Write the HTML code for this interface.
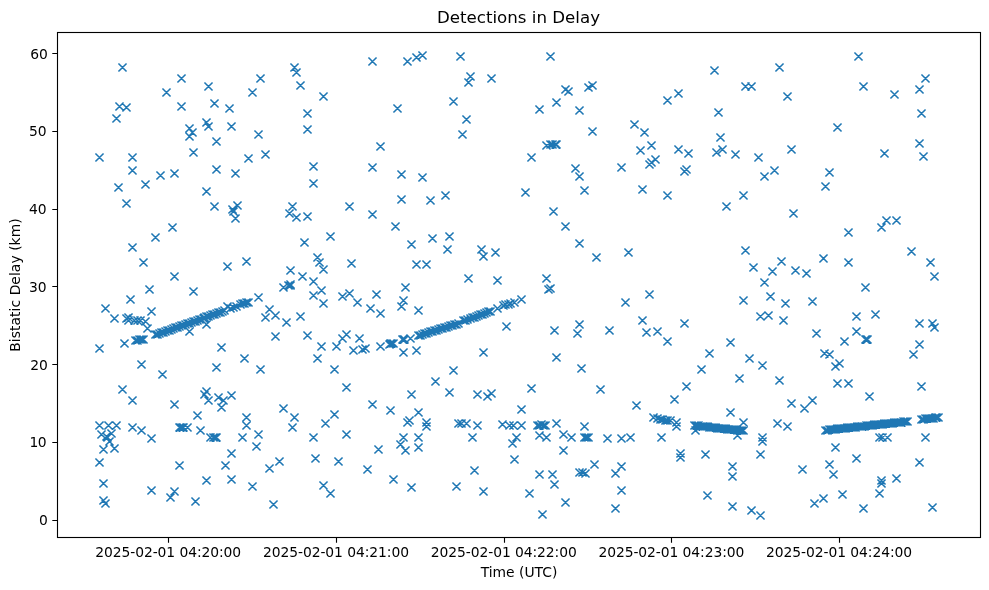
<!DOCTYPE html>
<html><head><meta charset="utf-8"><title>Detections in Delay</title>
<style>html,body{margin:0;padding:0;background:#fff}body{width:989px;height:590px;overflow:hidden}</style></head>
<body>
<svg width="989" height="590" viewBox="0 0 989 590" style="display:block">
<rect width="989" height="590" fill="#fff"/>
<path d="M185.45 124.45l8.10 8.10m-8.10 0l8.10 -8.10M188.45 128.45l8.10 8.10m-8.10 0l8.10 -8.10M185.45 132.45l8.10 8.10m-8.10 0l8.10 -8.10M202.45 118.45l8.10 8.10m-8.10 0l8.10 -8.10M542.45 141.45l8.10 8.10m-8.10 0l8.10 -8.10M546.45 140.45l8.10 8.10m-8.10 0l8.10 -8.10M548.45 140.45l8.10 8.10m-8.10 0l8.10 -8.10M551.45 140.45l8.10 8.10m-8.10 0l8.10 -8.10M552.45 140.45l8.10 8.10m-8.10 0l8.10 -8.10M651.45 155.45l8.10 8.10m-8.10 0l8.10 -8.10M647.45 158.45l8.10 8.10m-8.10 0l8.10 -8.10M645.45 160.45l8.10 8.10m-8.10 0l8.10 -8.10M682.45 165.45l8.10 8.10m-8.10 0l8.10 -8.10M680.45 167.45l8.10 8.10m-8.10 0l8.10 -8.10M233.45 201.45l8.10 8.10m-8.10 0l8.10 -8.10M228.45 205.45l8.10 8.10m-8.10 0l8.10 -8.10M229.45 207.45l8.10 8.10m-8.10 0l8.10 -8.10M231.45 214.45l8.10 8.10m-8.10 0l8.10 -8.10M288.45 202.45l8.10 8.10m-8.10 0l8.10 -8.10M285.45 209.45l8.10 8.10m-8.10 0l8.10 -8.10M292.45 213.45l8.10 8.10m-8.10 0l8.10 -8.10M300.45 238.45l8.10 8.10m-8.10 0l8.10 -8.10M279.45 283.45l8.10 8.10m-8.10 0l8.10 -8.10M284.45 281.45l8.10 8.10m-8.10 0l8.10 -8.10M286.45 280.45l8.10 8.10m-8.10 0l8.10 -8.10M286.45 281.45l8.10 8.10m-8.10 0l8.10 -8.10M122.45 314.45l8.10 8.10m-8.10 0l8.10 -8.10M124.45 313.45l8.10 8.10m-8.10 0l8.10 -8.10M124.45 316.45l8.10 8.10m-8.10 0l8.10 -8.10M130.45 316.45l8.10 8.10m-8.10 0l8.10 -8.10M133.45 316.45l8.10 8.10m-8.10 0l8.10 -8.10M136.45 316.45l8.10 8.10m-8.10 0l8.10 -8.10M141.45 317.45l8.10 8.10m-8.10 0l8.10 -8.10M143.45 324.45l8.10 8.10m-8.10 0l8.10 -8.10M544.45 285.45l8.10 8.10m-8.10 0l8.10 -8.10M546.45 284.45l8.10 8.10m-8.10 0l8.10 -8.10M928.45 319.45l8.10 8.10m-8.10 0l8.10 -8.10M930.45 323.45l8.10 8.10m-8.10 0l8.10 -8.10M95.45 421.45l8.10 8.10m-8.10 0l8.10 -8.10M104.45 421.45l8.10 8.10m-8.10 0l8.10 -8.10M112.45 421.45l8.10 8.10m-8.10 0l8.10 -8.10M97.45 430.45l8.10 8.10m-8.10 0l8.10 -8.10M107.45 429.45l8.10 8.10m-8.10 0l8.10 -8.10M102.45 432.45l8.10 8.10m-8.10 0l8.10 -8.10M103.45 433.45l8.10 8.10m-8.10 0l8.10 -8.10M105.45 437.45l8.10 8.10m-8.10 0l8.10 -8.10M99.45 445.45l8.10 8.10m-8.10 0l8.10 -8.10M110.45 444.45l8.10 8.10m-8.10 0l8.10 -8.10M95.45 458.45l8.10 8.10m-8.10 0l8.10 -8.10M128.45 396.45l8.10 8.10m-8.10 0l8.10 -8.10M128.45 423.45l8.10 8.10m-8.10 0l8.10 -8.10M137.45 426.45l8.10 8.10m-8.10 0l8.10 -8.10M147.45 434.45l8.10 8.10m-8.10 0l8.10 -8.10M170.45 400.45l8.10 8.10m-8.10 0l8.10 -8.10M193.45 411.45l8.10 8.10m-8.10 0l8.10 -8.10M175.45 423.45l8.10 8.10m-8.10 0l8.10 -8.10M176.45 423.45l8.10 8.10m-8.10 0l8.10 -8.10M178.45 423.45l8.10 8.10m-8.10 0l8.10 -8.10M179.45 423.45l8.10 8.10m-8.10 0l8.10 -8.10M183.45 423.45l8.10 8.10m-8.10 0l8.10 -8.10M196.45 426.45l8.10 8.10m-8.10 0l8.10 -8.10M175.45 461.45l8.10 8.10m-8.10 0l8.10 -8.10M202.45 387.45l8.10 8.10m-8.10 0l8.10 -8.10M200.45 390.45l8.10 8.10m-8.10 0l8.10 -8.10M204.45 396.45l8.10 8.10m-8.10 0l8.10 -8.10M214.45 393.45l8.10 8.10m-8.10 0l8.10 -8.10M219.45 396.45l8.10 8.10m-8.10 0l8.10 -8.10M227.45 391.45l8.10 8.10m-8.10 0l8.10 -8.10M217.45 403.45l8.10 8.10m-8.10 0l8.10 -8.10M206.45 433.45l8.10 8.10m-8.10 0l8.10 -8.10M209.45 433.45l8.10 8.10m-8.10 0l8.10 -8.10M211.45 433.45l8.10 8.10m-8.10 0l8.10 -8.10M212.45 433.45l8.10 8.10m-8.10 0l8.10 -8.10M242.45 413.45l8.10 8.10m-8.10 0l8.10 -8.10M242.45 421.45l8.10 8.10m-8.10 0l8.10 -8.10M238.45 433.45l8.10 8.10m-8.10 0l8.10 -8.10M254.45 430.45l8.10 8.10m-8.10 0l8.10 -8.10M252.45 442.45l8.10 8.10m-8.10 0l8.10 -8.10M279.45 404.45l8.10 8.10m-8.10 0l8.10 -8.10M290.45 413.45l8.10 8.10m-8.10 0l8.10 -8.10M288.45 423.45l8.10 8.10m-8.10 0l8.10 -8.10M227.45 449.45l8.10 8.10m-8.10 0l8.10 -8.10M414.45 408.45l8.10 8.10m-8.10 0l8.10 -8.10M403.45 418.45l8.10 8.10m-8.10 0l8.10 -8.10M405.45 416.45l8.10 8.10m-8.10 0l8.10 -8.10M422.45 418.45l8.10 8.10m-8.10 0l8.10 -8.10M422.45 422.45l8.10 8.10m-8.10 0l8.10 -8.10M399.45 433.45l8.10 8.10m-8.10 0l8.10 -8.10M414.45 433.45l8.10 8.10m-8.10 0l8.10 -8.10M396.45 440.45l8.10 8.10m-8.10 0l8.10 -8.10M401.45 446.45l8.10 8.10m-8.10 0l8.10 -8.10M414.45 443.45l8.10 8.10m-8.10 0l8.10 -8.10M454.45 419.45l8.10 8.10m-8.10 0l8.10 -8.10M457.45 419.45l8.10 8.10m-8.10 0l8.10 -8.10M462.45 419.45l8.10 8.10m-8.10 0l8.10 -8.10M473.45 421.45l8.10 8.10m-8.10 0l8.10 -8.10M468.45 433.45l8.10 8.10m-8.10 0l8.10 -8.10M470.45 466.45l8.10 8.10m-8.10 0l8.10 -8.10M498.45 420.45l8.10 8.10m-8.10 0l8.10 -8.10M505.45 421.45l8.10 8.10m-8.10 0l8.10 -8.10M509.45 421.45l8.10 8.10m-8.10 0l8.10 -8.10M517.45 421.45l8.10 8.10m-8.10 0l8.10 -8.10M517.45 405.45l8.10 8.10m-8.10 0l8.10 -8.10M533.45 421.45l8.10 8.10m-8.10 0l8.10 -8.10M535.45 421.45l8.10 8.10m-8.10 0l8.10 -8.10M537.45 420.45l8.10 8.10m-8.10 0l8.10 -8.10M539.45 421.45l8.10 8.10m-8.10 0l8.10 -8.10M541.45 421.45l8.10 8.10m-8.10 0l8.10 -8.10M512.45 433.45l8.10 8.10m-8.10 0l8.10 -8.10M508.45 439.45l8.10 8.10m-8.10 0l8.10 -8.10M510.45 455.45l8.10 8.10m-8.10 0l8.10 -8.10M535.45 431.45l8.10 8.10m-8.10 0l8.10 -8.10M542.45 433.45l8.10 8.10m-8.10 0l8.10 -8.10M535.45 470.45l8.10 8.10m-8.10 0l8.10 -8.10M548.45 470.45l8.10 8.10m-8.10 0l8.10 -8.10M552.45 419.45l8.10 8.10m-8.10 0l8.10 -8.10M580.45 422.45l8.10 8.10m-8.10 0l8.10 -8.10M559.45 430.45l8.10 8.10m-8.10 0l8.10 -8.10M567.45 433.45l8.10 8.10m-8.10 0l8.10 -8.10M580.45 433.45l8.10 8.10m-8.10 0l8.10 -8.10M582.45 433.45l8.10 8.10m-8.10 0l8.10 -8.10M584.45 433.45l8.10 8.10m-8.10 0l8.10 -8.10M603.45 434.45l8.10 8.10m-8.10 0l8.10 -8.10M617.45 434.45l8.10 8.10m-8.10 0l8.10 -8.10M626.45 433.45l8.10 8.10m-8.10 0l8.10 -8.10M559.45 446.45l8.10 8.10m-8.10 0l8.10 -8.10M590.45 460.45l8.10 8.10m-8.10 0l8.10 -8.10M575.45 468.45l8.10 8.10m-8.10 0l8.10 -8.10M578.45 468.45l8.10 8.10m-8.10 0l8.10 -8.10M581.45 469.45l8.10 8.10m-8.10 0l8.10 -8.10M649.45 413.45l8.10 8.10m-8.10 0l8.10 -8.10M653.45 414.45l8.10 8.10m-8.10 0l8.10 -8.10M656.45 415.45l8.10 8.10m-8.10 0l8.10 -8.10M658.45 415.45l8.10 8.10m-8.10 0l8.10 -8.10M661.45 416.45l8.10 8.10m-8.10 0l8.10 -8.10M663.45 416.45l8.10 8.10m-8.10 0l8.10 -8.10M666.45 416.45l8.10 8.10m-8.10 0l8.10 -8.10M672.45 418.45l8.10 8.10m-8.10 0l8.10 -8.10M672.45 422.45l8.10 8.10m-8.10 0l8.10 -8.10M670.45 395.45l8.10 8.10m-8.10 0l8.10 -8.10M726.45 408.45l8.10 8.10m-8.10 0l8.10 -8.10M739.45 418.45l8.10 8.10m-8.10 0l8.10 -8.10M691.45 426.45l8.10 8.10m-8.10 0l8.10 -8.10M733.45 431.45l8.10 8.10m-8.10 0l8.10 -8.10M657.45 433.45l8.10 8.10m-8.10 0l8.10 -8.10M676.45 449.45l8.10 8.10m-8.10 0l8.10 -8.10M676.45 453.45l8.10 8.10m-8.10 0l8.10 -8.10M701.45 450.45l8.10 8.10m-8.10 0l8.10 -8.10M728.45 462.45l8.10 8.10m-8.10 0l8.10 -8.10M758.45 433.45l8.10 8.10m-8.10 0l8.10 -8.10M758.45 437.45l8.10 8.10m-8.10 0l8.10 -8.10M756.45 450.45l8.10 8.10m-8.10 0l8.10 -8.10M875.45 433.45l8.10 8.10m-8.10 0l8.10 -8.10M878.45 433.45l8.10 8.10m-8.10 0l8.10 -8.10M883.45 433.45l8.10 8.10m-8.10 0l8.10 -8.10M820.45 349.45l8.10 8.10m-8.10 0l8.10 -8.10M825.45 350.45l8.10 8.10m-8.10 0l8.10 -8.10M861.45 335.45l8.10 8.10m-8.10 0l8.10 -8.10M862.45 335.45l8.10 8.10m-8.10 0l8.10 -8.10M863.45 335.45l8.10 8.10m-8.10 0l8.10 -8.10M877.45 476.45l8.10 8.10m-8.10 0l8.10 -8.10M877.45 479.45l8.10 8.10m-8.10 0l8.10 -8.10M223.45 302.45l8.10 8.10m-8.10 0l8.10 -8.10M226.45 304.45l8.10 8.10m-8.10 0l8.10 -8.10M229.45 303.45l8.10 8.10m-8.10 0l8.10 -8.10M232.45 302.45l8.10 8.10m-8.10 0l8.10 -8.10M406.45 334.45l8.10 8.10m-8.10 0l8.10 -8.10M493.45 304.45l8.10 8.10m-8.10 0l8.10 -8.10M499.45 301.45l8.10 8.10m-8.10 0l8.10 -8.10M501.45 300.45l8.10 8.10m-8.10 0l8.10 -8.10M504.45 300.45l8.10 8.10m-8.10 0l8.10 -8.10M506.45 299.45l8.10 8.10m-8.10 0l8.10 -8.10M510.45 298.45l8.10 8.10m-8.10 0l8.10 -8.10M517.45 295.45l8.10 8.10m-8.10 0l8.10 -8.10M385.45 340.45l8.10 8.10m-8.10 0l8.10 -8.10M386.45 339.45l8.10 8.10m-8.10 0l8.10 -8.10M387.45 339.45l8.10 8.10m-8.10 0l8.10 -8.10M389.45 339.45l8.10 8.10m-8.10 0l8.10 -8.10M398.45 335.45l8.10 8.10m-8.10 0l8.10 -8.10M399.45 335.45l8.10 8.10m-8.10 0l8.10 -8.10M400.45 335.45l8.10 8.10m-8.10 0l8.10 -8.10M358.45 345.45l8.10 8.10m-8.10 0l8.10 -8.10M546.45 52.45l8.10 8.10m-8.10 0l8.10 -8.10M549.45 207.45l8.10 8.10m-8.10 0l8.10 -8.10M202.45 320.45l8.10 8.10m-8.10 0l8.10 -8.10M118.45 63.45l8.10 8.10m-8.10 0l8.10 -8.10M177.45 74.45l8.10 8.10m-8.10 0l8.10 -8.10M162.45 88.45l8.10 8.10m-8.10 0l8.10 -8.10M204.45 82.45l8.10 8.10m-8.10 0l8.10 -8.10M256.45 74.45l8.10 8.10m-8.10 0l8.10 -8.10M248.45 88.45l8.10 8.10m-8.10 0l8.10 -8.10M290.45 63.45l8.10 8.10m-8.10 0l8.10 -8.10M292.45 68.45l8.10 8.10m-8.10 0l8.10 -8.10M296.45 81.45l8.10 8.10m-8.10 0l8.10 -8.10M115.45 102.45l8.10 8.10m-8.10 0l8.10 -8.10M122.45 103.45l8.10 8.10m-8.10 0l8.10 -8.10M112.45 114.45l8.10 8.10m-8.10 0l8.10 -8.10M177.45 102.45l8.10 8.10m-8.10 0l8.10 -8.10M210.45 99.45l8.10 8.10m-8.10 0l8.10 -8.10M225.45 104.45l8.10 8.10m-8.10 0l8.10 -8.10M204.45 122.45l8.10 8.10m-8.10 0l8.10 -8.10M227.45 122.45l8.10 8.10m-8.10 0l8.10 -8.10M212.45 137.45l8.10 8.10m-8.10 0l8.10 -8.10M254.45 130.45l8.10 8.10m-8.10 0l8.10 -8.10M189.45 148.45l8.10 8.10m-8.10 0l8.10 -8.10M95.45 153.45l8.10 8.10m-8.10 0l8.10 -8.10M128.45 153.45l8.10 8.10m-8.10 0l8.10 -8.10M128.45 166.45l8.10 8.10m-8.10 0l8.10 -8.10M156.45 171.45l8.10 8.10m-8.10 0l8.10 -8.10M170.45 169.45l8.10 8.10m-8.10 0l8.10 -8.10M212.45 165.45l8.10 8.10m-8.10 0l8.10 -8.10M231.45 169.45l8.10 8.10m-8.10 0l8.10 -8.10M244.45 154.45l8.10 8.10m-8.10 0l8.10 -8.10M261.45 150.45l8.10 8.10m-8.10 0l8.10 -8.10M368.45 57.45l8.10 8.10m-8.10 0l8.10 -8.10M403.45 57.45l8.10 8.10m-8.10 0l8.10 -8.10M412.45 53.45l8.10 8.10m-8.10 0l8.10 -8.10M418.45 51.45l8.10 8.10m-8.10 0l8.10 -8.10M456.45 52.45l8.10 8.10m-8.10 0l8.10 -8.10M466.45 72.45l8.10 8.10m-8.10 0l8.10 -8.10M464.45 78.45l8.10 8.10m-8.10 0l8.10 -8.10M487.45 74.45l8.10 8.10m-8.10 0l8.10 -8.10M319.45 92.45l8.10 8.10m-8.10 0l8.10 -8.10M303.45 109.45l8.10 8.10m-8.10 0l8.10 -8.10M303.45 125.45l8.10 8.10m-8.10 0l8.10 -8.10M393.45 104.45l8.10 8.10m-8.10 0l8.10 -8.10M449.45 97.45l8.10 8.10m-8.10 0l8.10 -8.10M462.45 115.45l8.10 8.10m-8.10 0l8.10 -8.10M458.45 130.45l8.10 8.10m-8.10 0l8.10 -8.10M535.45 105.45l8.10 8.10m-8.10 0l8.10 -8.10M376.45 142.45l8.10 8.10m-8.10 0l8.10 -8.10M309.45 162.45l8.10 8.10m-8.10 0l8.10 -8.10M368.45 163.45l8.10 8.10m-8.10 0l8.10 -8.10M397.45 170.45l8.10 8.10m-8.10 0l8.10 -8.10M418.45 173.45l8.10 8.10m-8.10 0l8.10 -8.10M527.45 153.45l8.10 8.10m-8.10 0l8.10 -8.10M710.45 66.45l8.10 8.10m-8.10 0l8.10 -8.10M775.45 63.45l8.10 8.10m-8.10 0l8.10 -8.10M561.45 85.45l8.10 8.10m-8.10 0l8.10 -8.10M564.45 87.45l8.10 8.10m-8.10 0l8.10 -8.10M584.45 83.45l8.10 8.10m-8.10 0l8.10 -8.10M588.45 81.45l8.10 8.10m-8.10 0l8.10 -8.10M741.45 82.45l8.10 8.10m-8.10 0l8.10 -8.10M747.45 82.45l8.10 8.10m-8.10 0l8.10 -8.10M783.45 92.45l8.10 8.10m-8.10 0l8.10 -8.10M552.45 98.45l8.10 8.10m-8.10 0l8.10 -8.10M575.45 106.45l8.10 8.10m-8.10 0l8.10 -8.10M663.45 96.45l8.10 8.10m-8.10 0l8.10 -8.10M674.45 89.45l8.10 8.10m-8.10 0l8.10 -8.10M714.45 108.45l8.10 8.10m-8.10 0l8.10 -8.10M588.45 127.45l8.10 8.10m-8.10 0l8.10 -8.10M630.45 120.45l8.10 8.10m-8.10 0l8.10 -8.10M640.45 128.45l8.10 8.10m-8.10 0l8.10 -8.10M716.45 133.45l8.10 8.10m-8.10 0l8.10 -8.10M647.45 141.45l8.10 8.10m-8.10 0l8.10 -8.10M636.45 146.45l8.10 8.10m-8.10 0l8.10 -8.10M674.45 145.45l8.10 8.10m-8.10 0l8.10 -8.10M684.45 149.45l8.10 8.10m-8.10 0l8.10 -8.10M712.45 148.45l8.10 8.10m-8.10 0l8.10 -8.10M718.45 145.45l8.10 8.10m-8.10 0l8.10 -8.10M731.45 150.45l8.10 8.10m-8.10 0l8.10 -8.10M754.45 153.45l8.10 8.10m-8.10 0l8.10 -8.10M787.45 145.45l8.10 8.10m-8.10 0l8.10 -8.10M571.45 164.45l8.10 8.10m-8.10 0l8.10 -8.10M575.45 172.45l8.10 8.10m-8.10 0l8.10 -8.10M617.45 163.45l8.10 8.10m-8.10 0l8.10 -8.10M760.45 172.45l8.10 8.10m-8.10 0l8.10 -8.10M770.45 166.45l8.10 8.10m-8.10 0l8.10 -8.10M854.45 52.45l8.10 8.10m-8.10 0l8.10 -8.10M859.45 82.45l8.10 8.10m-8.10 0l8.10 -8.10M890.45 90.45l8.10 8.10m-8.10 0l8.10 -8.10M915.45 85.45l8.10 8.10m-8.10 0l8.10 -8.10M921.45 74.45l8.10 8.10m-8.10 0l8.10 -8.10M917.45 109.45l8.10 8.10m-8.10 0l8.10 -8.10M833.45 123.45l8.10 8.10m-8.10 0l8.10 -8.10M825.45 168.45l8.10 8.10m-8.10 0l8.10 -8.10M880.45 149.45l8.10 8.10m-8.10 0l8.10 -8.10M915.45 139.45l8.10 8.10m-8.10 0l8.10 -8.10M919.45 152.45l8.10 8.10m-8.10 0l8.10 -8.10M114.45 183.45l8.10 8.10m-8.10 0l8.10 -8.10M141.45 180.45l8.10 8.10m-8.10 0l8.10 -8.10M122.45 199.45l8.10 8.10m-8.10 0l8.10 -8.10M202.45 187.45l8.10 8.10m-8.10 0l8.10 -8.10M210.45 202.45l8.10 8.10m-8.10 0l8.10 -8.10M168.45 223.45l8.10 8.10m-8.10 0l8.10 -8.10M151.45 233.45l8.10 8.10m-8.10 0l8.10 -8.10M128.45 243.45l8.10 8.10m-8.10 0l8.10 -8.10M139.45 258.45l8.10 8.10m-8.10 0l8.10 -8.10M223.45 262.45l8.10 8.10m-8.10 0l8.10 -8.10M242.45 257.45l8.10 8.10m-8.10 0l8.10 -8.10M286.45 266.45l8.10 8.10m-8.10 0l8.10 -8.10M298.45 272.45l8.10 8.10m-8.10 0l8.10 -8.10M170.45 272.45l8.10 8.10m-8.10 0l8.10 -8.10M145.45 285.45l8.10 8.10m-8.10 0l8.10 -8.10M189.45 287.45l8.10 8.10m-8.10 0l8.10 -8.10M126.45 295.45l8.10 8.10m-8.10 0l8.10 -8.10M101.45 304.45l8.10 8.10m-8.10 0l8.10 -8.10M110.45 314.45l8.10 8.10m-8.10 0l8.10 -8.10M147.45 307.45l8.10 8.10m-8.10 0l8.10 -8.10M254.45 293.45l8.10 8.10m-8.10 0l8.10 -8.10M265.45 305.45l8.10 8.10m-8.10 0l8.10 -8.10M261.45 313.45l8.10 8.10m-8.10 0l8.10 -8.10M271.45 311.45l8.10 8.10m-8.10 0l8.10 -8.10M282.45 318.45l8.10 8.10m-8.10 0l8.10 -8.10M296.45 312.45l8.10 8.10m-8.10 0l8.10 -8.10M309.45 179.45l8.10 8.10m-8.10 0l8.10 -8.10M303.45 212.45l8.10 8.10m-8.10 0l8.10 -8.10M345.45 202.45l8.10 8.10m-8.10 0l8.10 -8.10M368.45 210.45l8.10 8.10m-8.10 0l8.10 -8.10M397.45 195.45l8.10 8.10m-8.10 0l8.10 -8.10M426.45 196.45l8.10 8.10m-8.10 0l8.10 -8.10M441.45 191.45l8.10 8.10m-8.10 0l8.10 -8.10M521.45 188.45l8.10 8.10m-8.10 0l8.10 -8.10M391.45 222.45l8.10 8.10m-8.10 0l8.10 -8.10M326.45 232.45l8.10 8.10m-8.10 0l8.10 -8.10M407.45 240.45l8.10 8.10m-8.10 0l8.10 -8.10M428.45 234.45l8.10 8.10m-8.10 0l8.10 -8.10M445.45 232.45l8.10 8.10m-8.10 0l8.10 -8.10M443.45 245.45l8.10 8.10m-8.10 0l8.10 -8.10M477.45 245.45l8.10 8.10m-8.10 0l8.10 -8.10M479.45 252.45l8.10 8.10m-8.10 0l8.10 -8.10M491.45 248.45l8.10 8.10m-8.10 0l8.10 -8.10M313.45 253.45l8.10 8.10m-8.10 0l8.10 -8.10M315.45 258.45l8.10 8.10m-8.10 0l8.10 -8.10M319.45 265.45l8.10 8.10m-8.10 0l8.10 -8.10M347.45 259.45l8.10 8.10m-8.10 0l8.10 -8.10M412.45 260.45l8.10 8.10m-8.10 0l8.10 -8.10M422.45 260.45l8.10 8.10m-8.10 0l8.10 -8.10M309.45 277.45l8.10 8.10m-8.10 0l8.10 -8.10M317.45 286.45l8.10 8.10m-8.10 0l8.10 -8.10M309.45 291.45l8.10 8.10m-8.10 0l8.10 -8.10M319.45 299.45l8.10 8.10m-8.10 0l8.10 -8.10M338.45 292.45l8.10 8.10m-8.10 0l8.10 -8.10M345.45 289.45l8.10 8.10m-8.10 0l8.10 -8.10M353.45 298.45l8.10 8.10m-8.10 0l8.10 -8.10M372.45 290.45l8.10 8.10m-8.10 0l8.10 -8.10M366.45 304.45l8.10 8.10m-8.10 0l8.10 -8.10M376.45 309.45l8.10 8.10m-8.10 0l8.10 -8.10M401.45 283.45l8.10 8.10m-8.10 0l8.10 -8.10M399.45 296.45l8.10 8.10m-8.10 0l8.10 -8.10M397.45 302.45l8.10 8.10m-8.10 0l8.10 -8.10M414.45 306.45l8.10 8.10m-8.10 0l8.10 -8.10M464.45 274.45l8.10 8.10m-8.10 0l8.10 -8.10M493.45 276.45l8.10 8.10m-8.10 0l8.10 -8.10M542.45 274.45l8.10 8.10m-8.10 0l8.10 -8.10M502.45 322.45l8.10 8.10m-8.10 0l8.10 -8.10M580.45 186.45l8.10 8.10m-8.10 0l8.10 -8.10M638.45 185.45l8.10 8.10m-8.10 0l8.10 -8.10M663.45 191.45l8.10 8.10m-8.10 0l8.10 -8.10M739.45 191.45l8.10 8.10m-8.10 0l8.10 -8.10M722.45 202.45l8.10 8.10m-8.10 0l8.10 -8.10M789.45 209.45l8.10 8.10m-8.10 0l8.10 -8.10M561.45 222.45l8.10 8.10m-8.10 0l8.10 -8.10M575.45 239.45l8.10 8.10m-8.10 0l8.10 -8.10M592.45 253.45l8.10 8.10m-8.10 0l8.10 -8.10M624.45 248.45l8.10 8.10m-8.10 0l8.10 -8.10M741.45 246.45l8.10 8.10m-8.10 0l8.10 -8.10M749.45 263.45l8.10 8.10m-8.10 0l8.10 -8.10M777.45 257.45l8.10 8.10m-8.10 0l8.10 -8.10M768.45 267.45l8.10 8.10m-8.10 0l8.10 -8.10M791.45 266.45l8.10 8.10m-8.10 0l8.10 -8.10M760.45 278.45l8.10 8.10m-8.10 0l8.10 -8.10M645.45 290.45l8.10 8.10m-8.10 0l8.10 -8.10M621.45 298.45l8.10 8.10m-8.10 0l8.10 -8.10M739.45 296.45l8.10 8.10m-8.10 0l8.10 -8.10M766.45 292.45l8.10 8.10m-8.10 0l8.10 -8.10M781.45 299.45l8.10 8.10m-8.10 0l8.10 -8.10M638.45 316.45l8.10 8.10m-8.10 0l8.10 -8.10M680.45 319.45l8.10 8.10m-8.10 0l8.10 -8.10M575.45 320.45l8.10 8.10m-8.10 0l8.10 -8.10M756.45 312.45l8.10 8.10m-8.10 0l8.10 -8.10M764.45 311.45l8.10 8.10m-8.10 0l8.10 -8.10M779.45 316.45l8.10 8.10m-8.10 0l8.10 -8.10M821.45 182.45l8.10 8.10m-8.10 0l8.10 -8.10M844.45 228.45l8.10 8.10m-8.10 0l8.10 -8.10M877.45 223.45l8.10 8.10m-8.10 0l8.10 -8.10M882.45 216.45l8.10 8.10m-8.10 0l8.10 -8.10M892.45 216.45l8.10 8.10m-8.10 0l8.10 -8.10M907.45 247.45l8.10 8.10m-8.10 0l8.10 -8.10M926.45 258.45l8.10 8.10m-8.10 0l8.10 -8.10M930.45 272.45l8.10 8.10m-8.10 0l8.10 -8.10M819.45 254.45l8.10 8.10m-8.10 0l8.10 -8.10M844.45 258.45l8.10 8.10m-8.10 0l8.10 -8.10M802.45 269.45l8.10 8.10m-8.10 0l8.10 -8.10M861.45 283.45l8.10 8.10m-8.10 0l8.10 -8.10M808.45 297.45l8.10 8.10m-8.10 0l8.10 -8.10M852.45 312.45l8.10 8.10m-8.10 0l8.10 -8.10M871.45 310.45l8.10 8.10m-8.10 0l8.10 -8.10M915.45 319.45l8.10 8.10m-8.10 0l8.10 -8.10M185.45 327.45l8.10 8.10m-8.10 0l8.10 -8.10M95.45 344.45l8.10 8.10m-8.10 0l8.10 -8.10M120.45 339.45l8.10 8.10m-8.10 0l8.10 -8.10M271.45 332.45l8.10 8.10m-8.10 0l8.10 -8.10M217.45 343.45l8.10 8.10m-8.10 0l8.10 -8.10M240.45 354.45l8.10 8.10m-8.10 0l8.10 -8.10M212.45 363.45l8.10 8.10m-8.10 0l8.10 -8.10M256.45 365.45l8.10 8.10m-8.10 0l8.10 -8.10M137.45 360.45l8.10 8.10m-8.10 0l8.10 -8.10M158.45 370.45l8.10 8.10m-8.10 0l8.10 -8.10M118.45 385.45l8.10 8.10m-8.10 0l8.10 -8.10M221.45 461.45l8.10 8.10m-8.10 0l8.10 -8.10M265.45 464.45l8.10 8.10m-8.10 0l8.10 -8.10M275.45 457.45l8.10 8.10m-8.10 0l8.10 -8.10M303.45 331.45l8.10 8.10m-8.10 0l8.10 -8.10M342.45 330.45l8.10 8.10m-8.10 0l8.10 -8.10M338.45 334.45l8.10 8.10m-8.10 0l8.10 -8.10M355.45 334.45l8.10 8.10m-8.10 0l8.10 -8.10M317.45 342.45l8.10 8.10m-8.10 0l8.10 -8.10M332.45 342.45l8.10 8.10m-8.10 0l8.10 -8.10M313.45 354.45l8.10 8.10m-8.10 0l8.10 -8.10M349.45 346.45l8.10 8.10m-8.10 0l8.10 -8.10M361.45 344.45l8.10 8.10m-8.10 0l8.10 -8.10M376.45 342.45l8.10 8.10m-8.10 0l8.10 -8.10M399.45 348.45l8.10 8.10m-8.10 0l8.10 -8.10M412.45 346.45l8.10 8.10m-8.10 0l8.10 -8.10M479.45 348.45l8.10 8.10m-8.10 0l8.10 -8.10M330.45 365.45l8.10 8.10m-8.10 0l8.10 -8.10M342.45 383.45l8.10 8.10m-8.10 0l8.10 -8.10M449.45 366.45l8.10 8.10m-8.10 0l8.10 -8.10M431.45 377.45l8.10 8.10m-8.10 0l8.10 -8.10M407.45 390.45l8.10 8.10m-8.10 0l8.10 -8.10M445.45 388.45l8.10 8.10m-8.10 0l8.10 -8.10M473.45 390.45l8.10 8.10m-8.10 0l8.10 -8.10M483.45 392.45l8.10 8.10m-8.10 0l8.10 -8.10M487.45 389.45l8.10 8.10m-8.10 0l8.10 -8.10M527.45 384.45l8.10 8.10m-8.10 0l8.10 -8.10M368.45 400.45l8.10 8.10m-8.10 0l8.10 -8.10M386.45 406.45l8.10 8.10m-8.10 0l8.10 -8.10M330.45 410.45l8.10 8.10m-8.10 0l8.10 -8.10M321.45 419.45l8.10 8.10m-8.10 0l8.10 -8.10M309.45 433.45l8.10 8.10m-8.10 0l8.10 -8.10M342.45 430.45l8.10 8.10m-8.10 0l8.10 -8.10M311.45 454.45l8.10 8.10m-8.10 0l8.10 -8.10M334.45 457.45l8.10 8.10m-8.10 0l8.10 -8.10M363.45 465.45l8.10 8.10m-8.10 0l8.10 -8.10M374.45 445.45l8.10 8.10m-8.10 0l8.10 -8.10M550.45 326.45l8.10 8.10m-8.10 0l8.10 -8.10M573.45 329.45l8.10 8.10m-8.10 0l8.10 -8.10M605.45 326.45l8.10 8.10m-8.10 0l8.10 -8.10M642.45 328.45l8.10 8.10m-8.10 0l8.10 -8.10M653.45 327.45l8.10 8.10m-8.10 0l8.10 -8.10M663.45 337.45l8.10 8.10m-8.10 0l8.10 -8.10M552.45 353.45l8.10 8.10m-8.10 0l8.10 -8.10M577.45 364.45l8.10 8.10m-8.10 0l8.10 -8.10M596.45 385.45l8.10 8.10m-8.10 0l8.10 -8.10M632.45 401.45l8.10 8.10m-8.10 0l8.10 -8.10M726.45 338.45l8.10 8.10m-8.10 0l8.10 -8.10M705.45 349.45l8.10 8.10m-8.10 0l8.10 -8.10M745.45 354.45l8.10 8.10m-8.10 0l8.10 -8.10M758.45 361.45l8.10 8.10m-8.10 0l8.10 -8.10M697.45 365.45l8.10 8.10m-8.10 0l8.10 -8.10M735.45 374.45l8.10 8.10m-8.10 0l8.10 -8.10M775.45 376.45l8.10 8.10m-8.10 0l8.10 -8.10M682.45 382.45l8.10 8.10m-8.10 0l8.10 -8.10M787.45 399.45l8.10 8.10m-8.10 0l8.10 -8.10M773.45 419.45l8.10 8.10m-8.10 0l8.10 -8.10M783.45 422.45l8.10 8.10m-8.10 0l8.10 -8.10M617.45 462.45l8.10 8.10m-8.10 0l8.10 -8.10M812.45 329.45l8.10 8.10m-8.10 0l8.10 -8.10M852.45 327.45l8.10 8.10m-8.10 0l8.10 -8.10M840.45 337.45l8.10 8.10m-8.10 0l8.10 -8.10M835.45 359.45l8.10 8.10m-8.10 0l8.10 -8.10M831.45 362.45l8.10 8.10m-8.10 0l8.10 -8.10M833.45 379.45l8.10 8.10m-8.10 0l8.10 -8.10M844.45 379.45l8.10 8.10m-8.10 0l8.10 -8.10M915.45 340.45l8.10 8.10m-8.10 0l8.10 -8.10M909.45 350.45l8.10 8.10m-8.10 0l8.10 -8.10M917.45 382.45l8.10 8.10m-8.10 0l8.10 -8.10M865.45 392.45l8.10 8.10m-8.10 0l8.10 -8.10M808.45 396.45l8.10 8.10m-8.10 0l8.10 -8.10M800.45 404.45l8.10 8.10m-8.10 0l8.10 -8.10M831.45 443.45l8.10 8.10m-8.10 0l8.10 -8.10M921.45 433.45l8.10 8.10m-8.10 0l8.10 -8.10M852.45 454.45l8.10 8.10m-8.10 0l8.10 -8.10M915.45 458.45l8.10 8.10m-8.10 0l8.10 -8.10M798.45 465.45l8.10 8.10m-8.10 0l8.10 -8.10M825.45 460.45l8.10 8.10m-8.10 0l8.10 -8.10M99.45 479.45l8.10 8.10m-8.10 0l8.10 -8.10M147.45 486.45l8.10 8.10m-8.10 0l8.10 -8.10M170.45 487.45l8.10 8.10m-8.10 0l8.10 -8.10M166.45 493.45l8.10 8.10m-8.10 0l8.10 -8.10M202.45 476.45l8.10 8.10m-8.10 0l8.10 -8.10M227.45 475.45l8.10 8.10m-8.10 0l8.10 -8.10M248.45 482.45l8.10 8.10m-8.10 0l8.10 -8.10M191.45 497.45l8.10 8.10m-8.10 0l8.10 -8.10M99.45 496.45l8.10 8.10m-8.10 0l8.10 -8.10M101.45 499.45l8.10 8.10m-8.10 0l8.10 -8.10M269.45 500.45l8.10 8.10m-8.10 0l8.10 -8.10M319.45 481.45l8.10 8.10m-8.10 0l8.10 -8.10M326.45 489.45l8.10 8.10m-8.10 0l8.10 -8.10M389.45 475.45l8.10 8.10m-8.10 0l8.10 -8.10M407.45 483.45l8.10 8.10m-8.10 0l8.10 -8.10M452.45 482.45l8.10 8.10m-8.10 0l8.10 -8.10M479.45 487.45l8.10 8.10m-8.10 0l8.10 -8.10M525.45 489.45l8.10 8.10m-8.10 0l8.10 -8.10M538.45 510.45l8.10 8.10m-8.10 0l8.10 -8.10M550.45 480.45l8.10 8.10m-8.10 0l8.10 -8.10M611.45 469.45l8.10 8.10m-8.10 0l8.10 -8.10M617.45 486.45l8.10 8.10m-8.10 0l8.10 -8.10M561.45 498.45l8.10 8.10m-8.10 0l8.10 -8.10M611.45 504.45l8.10 8.10m-8.10 0l8.10 -8.10M728.45 472.45l8.10 8.10m-8.10 0l8.10 -8.10M703.45 491.45l8.10 8.10m-8.10 0l8.10 -8.10M728.45 502.45l8.10 8.10m-8.10 0l8.10 -8.10M747.45 506.45l8.10 8.10m-8.10 0l8.10 -8.10M756.45 511.45l8.10 8.10m-8.10 0l8.10 -8.10M829.45 470.45l8.10 8.10m-8.10 0l8.10 -8.10M892.45 474.45l8.10 8.10m-8.10 0l8.10 -8.10M875.45 489.45l8.10 8.10m-8.10 0l8.10 -8.10M838.45 490.45l8.10 8.10m-8.10 0l8.10 -8.10M819.45 494.45l8.10 8.10m-8.10 0l8.10 -8.10M810.45 499.45l8.10 8.10m-8.10 0l8.10 -8.10M859.45 504.45l8.10 8.10m-8.10 0l8.10 -8.10M928.45 503.45l8.10 8.10m-8.10 0l8.10 -8.10M131.45 336.45l8.10 8.10m-8.10 0l8.10 -8.10M133.45 336.45l8.10 8.10m-8.10 0l8.10 -8.10M135.45 335.45l8.10 8.10m-8.10 0l8.10 -8.10M137.45 335.45l8.10 8.10m-8.10 0l8.10 -8.10M139.45 335.45l8.10 8.10m-8.10 0l8.10 -8.10M151.45 330.45l8.10 8.10m-8.10 0l8.10 -8.10M153.45 330.45l8.10 8.10m-8.10 0l8.10 -8.10M155.45 329.45l8.10 8.10m-8.10 0l8.10 -8.10M157.45 328.45l8.10 8.10m-8.10 0l8.10 -8.10M159.45 328.45l8.10 8.10m-8.10 0l8.10 -8.10M161.45 327.45l8.10 8.10m-8.10 0l8.10 -8.10M163.45 326.45l8.10 8.10m-8.10 0l8.10 -8.10M165.45 326.45l8.10 8.10m-8.10 0l8.10 -8.10M167.45 325.45l8.10 8.10m-8.10 0l8.10 -8.10M169.45 324.45l8.10 8.10m-8.10 0l8.10 -8.10M171.45 323.45l8.10 8.10m-8.10 0l8.10 -8.10M173.45 323.45l8.10 8.10m-8.10 0l8.10 -8.10M175.45 322.45l8.10 8.10m-8.10 0l8.10 -8.10M177.45 321.45l8.10 8.10m-8.10 0l8.10 -8.10M179.45 321.45l8.10 8.10m-8.10 0l8.10 -8.10M181.45 320.45l8.10 8.10m-8.10 0l8.10 -8.10M183.45 319.45l8.10 8.10m-8.10 0l8.10 -8.10M185.45 319.45l8.10 8.10m-8.10 0l8.10 -8.10M187.45 318.45l8.10 8.10m-8.10 0l8.10 -8.10M189.45 317.45l8.10 8.10m-8.10 0l8.10 -8.10M191.45 317.45l8.10 8.10m-8.10 0l8.10 -8.10M193.45 316.45l8.10 8.10m-8.10 0l8.10 -8.10M195.45 315.45l8.10 8.10m-8.10 0l8.10 -8.10M197.45 315.45l8.10 8.10m-8.10 0l8.10 -8.10M199.45 314.45l8.10 8.10m-8.10 0l8.10 -8.10M200.45 313.45l8.10 8.10m-8.10 0l8.10 -8.10M202.45 312.45l8.10 8.10m-8.10 0l8.10 -8.10M204.45 312.45l8.10 8.10m-8.10 0l8.10 -8.10M206.45 311.45l8.10 8.10m-8.10 0l8.10 -8.10M208.45 310.45l8.10 8.10m-8.10 0l8.10 -8.10M210.45 310.45l8.10 8.10m-8.10 0l8.10 -8.10M212.45 309.45l8.10 8.10m-8.10 0l8.10 -8.10M214.45 308.45l8.10 8.10m-8.10 0l8.10 -8.10M216.45 308.45l8.10 8.10m-8.10 0l8.10 -8.10M218.45 307.45l8.10 8.10m-8.10 0l8.10 -8.10M220.45 306.45l8.10 8.10m-8.10 0l8.10 -8.10M236.45 300.45l8.10 8.10m-8.10 0l8.10 -8.10M238.45 299.45l8.10 8.10m-8.10 0l8.10 -8.10M240.45 299.45l8.10 8.10m-8.10 0l8.10 -8.10M242.45 298.45l8.10 8.10m-8.10 0l8.10 -8.10M244.45 298.45l8.10 8.10m-8.10 0l8.10 -8.10M414.45 331.45l8.10 8.10m-8.10 0l8.10 -8.10M416.45 331.45l8.10 8.10m-8.10 0l8.10 -8.10M418.45 330.45l8.10 8.10m-8.10 0l8.10 -8.10M420.45 329.45l8.10 8.10m-8.10 0l8.10 -8.10M422.45 329.45l8.10 8.10m-8.10 0l8.10 -8.10M424.45 328.45l8.10 8.10m-8.10 0l8.10 -8.10M426.45 327.45l8.10 8.10m-8.10 0l8.10 -8.10M428.45 327.45l8.10 8.10m-8.10 0l8.10 -8.10M430.45 326.45l8.10 8.10m-8.10 0l8.10 -8.10M432.45 326.45l8.10 8.10m-8.10 0l8.10 -8.10M434.45 325.45l8.10 8.10m-8.10 0l8.10 -8.10M436.45 324.45l8.10 8.10m-8.10 0l8.10 -8.10M438.45 324.45l8.10 8.10m-8.10 0l8.10 -8.10M440.45 323.45l8.10 8.10m-8.10 0l8.10 -8.10M442.45 323.45l8.10 8.10m-8.10 0l8.10 -8.10M444.45 322.45l8.10 8.10m-8.10 0l8.10 -8.10M446.45 321.45l8.10 8.10m-8.10 0l8.10 -8.10M448.45 321.45l8.10 8.10m-8.10 0l8.10 -8.10M450.45 320.45l8.10 8.10m-8.10 0l8.10 -8.10M452.45 320.45l8.10 8.10m-8.10 0l8.10 -8.10M454.45 319.45l8.10 8.10m-8.10 0l8.10 -8.10M459.45 316.45l8.10 8.10m-8.10 0l8.10 -8.10M461.45 316.45l8.10 8.10m-8.10 0l8.10 -8.10M463.45 315.45l8.10 8.10m-8.10 0l8.10 -8.10M466.45 314.45l8.10 8.10m-8.10 0l8.10 -8.10M468.45 313.45l8.10 8.10m-8.10 0l8.10 -8.10M470.45 313.45l8.10 8.10m-8.10 0l8.10 -8.10M472.45 312.45l8.10 8.10m-8.10 0l8.10 -8.10M474.45 311.45l8.10 8.10m-8.10 0l8.10 -8.10M476.45 310.45l8.10 8.10m-8.10 0l8.10 -8.10M478.45 310.45l8.10 8.10m-8.10 0l8.10 -8.10M480.45 309.45l8.10 8.10m-8.10 0l8.10 -8.10M482.45 308.45l8.10 8.10m-8.10 0l8.10 -8.10M484.45 307.45l8.10 8.10m-8.10 0l8.10 -8.10M486.45 307.45l8.10 8.10m-8.10 0l8.10 -8.10M690.45 421.45l8.10 8.10m-8.10 0l8.10 -8.10M692.45 421.45l8.10 8.10m-8.10 0l8.10 -8.10M694.45 421.45l8.10 8.10m-8.10 0l8.10 -8.10M696.45 422.45l8.10 8.10m-8.10 0l8.10 -8.10M698.45 422.45l8.10 8.10m-8.10 0l8.10 -8.10M699.45 422.45l8.10 8.10m-8.10 0l8.10 -8.10M701.45 422.45l8.10 8.10m-8.10 0l8.10 -8.10M703.45 422.45l8.10 8.10m-8.10 0l8.10 -8.10M705.45 423.45l8.10 8.10m-8.10 0l8.10 -8.10M707.45 423.45l8.10 8.10m-8.10 0l8.10 -8.10M709.45 423.45l8.10 8.10m-8.10 0l8.10 -8.10M711.45 423.45l8.10 8.10m-8.10 0l8.10 -8.10M713.45 424.45l8.10 8.10m-8.10 0l8.10 -8.10M715.45 424.45l8.10 8.10m-8.10 0l8.10 -8.10M717.45 424.45l8.10 8.10m-8.10 0l8.10 -8.10M719.45 424.45l8.10 8.10m-8.10 0l8.10 -8.10M721.45 424.45l8.10 8.10m-8.10 0l8.10 -8.10M723.45 425.45l8.10 8.10m-8.10 0l8.10 -8.10M725.45 425.45l8.10 8.10m-8.10 0l8.10 -8.10M727.45 425.45l8.10 8.10m-8.10 0l8.10 -8.10M729.45 425.45l8.10 8.10m-8.10 0l8.10 -8.10M731.45 425.45l8.10 8.10m-8.10 0l8.10 -8.10M733.45 426.45l8.10 8.10m-8.10 0l8.10 -8.10M735.45 426.45l8.10 8.10m-8.10 0l8.10 -8.10M737.45 426.45l8.10 8.10m-8.10 0l8.10 -8.10M739.45 426.45l8.10 8.10m-8.10 0l8.10 -8.10M821.45 426.45l8.10 8.10m-8.10 0l8.10 -8.10M823.45 426.45l8.10 8.10m-8.10 0l8.10 -8.10M825.45 425.45l8.10 8.10m-8.10 0l8.10 -8.10M827.45 425.45l8.10 8.10m-8.10 0l8.10 -8.10M829.45 425.45l8.10 8.10m-8.10 0l8.10 -8.10M831.45 425.45l8.10 8.10m-8.10 0l8.10 -8.10M833.45 424.45l8.10 8.10m-8.10 0l8.10 -8.10M835.45 424.45l8.10 8.10m-8.10 0l8.10 -8.10M837.45 424.45l8.10 8.10m-8.10 0l8.10 -8.10M839.45 424.45l8.10 8.10m-8.10 0l8.10 -8.10M841.45 424.45l8.10 8.10m-8.10 0l8.10 -8.10M843.45 423.45l8.10 8.10m-8.10 0l8.10 -8.10M845.45 423.45l8.10 8.10m-8.10 0l8.10 -8.10M847.45 423.45l8.10 8.10m-8.10 0l8.10 -8.10M849.45 423.45l8.10 8.10m-8.10 0l8.10 -8.10M851.45 423.45l8.10 8.10m-8.10 0l8.10 -8.10M853.45 422.45l8.10 8.10m-8.10 0l8.10 -8.10M855.45 422.45l8.10 8.10m-8.10 0l8.10 -8.10M857.45 422.45l8.10 8.10m-8.10 0l8.10 -8.10M858.45 422.45l8.10 8.10m-8.10 0l8.10 -8.10M860.45 422.45l8.10 8.10m-8.10 0l8.10 -8.10M862.45 421.45l8.10 8.10m-8.10 0l8.10 -8.10M864.45 421.45l8.10 8.10m-8.10 0l8.10 -8.10M866.45 421.45l8.10 8.10m-8.10 0l8.10 -8.10M868.45 421.45l8.10 8.10m-8.10 0l8.10 -8.10M870.45 420.45l8.10 8.10m-8.10 0l8.10 -8.10M872.45 420.45l8.10 8.10m-8.10 0l8.10 -8.10M874.45 420.45l8.10 8.10m-8.10 0l8.10 -8.10M876.45 420.45l8.10 8.10m-8.10 0l8.10 -8.10M878.45 420.45l8.10 8.10m-8.10 0l8.10 -8.10M880.45 419.45l8.10 8.10m-8.10 0l8.10 -8.10M882.45 419.45l8.10 8.10m-8.10 0l8.10 -8.10M884.45 419.45l8.10 8.10m-8.10 0l8.10 -8.10M886.45 419.45l8.10 8.10m-8.10 0l8.10 -8.10M888.45 419.45l8.10 8.10m-8.10 0l8.10 -8.10M890.45 418.45l8.10 8.10m-8.10 0l8.10 -8.10M892.45 418.45l8.10 8.10m-8.10 0l8.10 -8.10M894.45 418.45l8.10 8.10m-8.10 0l8.10 -8.10M896.45 418.45l8.10 8.10m-8.10 0l8.10 -8.10M897.45 418.45l8.10 8.10m-8.10 0l8.10 -8.10M899.45 417.45l8.10 8.10m-8.10 0l8.10 -8.10M901.45 417.45l8.10 8.10m-8.10 0l8.10 -8.10M903.45 417.45l8.10 8.10m-8.10 0l8.10 -8.10M917.45 415.45l8.10 8.10m-8.10 0l8.10 -8.10M919.45 415.45l8.10 8.10m-8.10 0l8.10 -8.10M921.45 414.45l8.10 8.10m-8.10 0l8.10 -8.10M923.45 414.45l8.10 8.10m-8.10 0l8.10 -8.10M925.45 414.45l8.10 8.10m-8.10 0l8.10 -8.10M927.45 414.45l8.10 8.10m-8.10 0l8.10 -8.10M929.45 414.45l8.10 8.10m-8.10 0l8.10 -8.10M931.45 413.45l8.10 8.10m-8.10 0l8.10 -8.10M932.45 413.45l8.10 8.10m-8.10 0l8.10 -8.10M934.45 413.45l8.10 8.10m-8.10 0l8.10 -8.10" fill="none" stroke="#1f77b4" stroke-width="1.55"/>
<rect x="57.5" y="32.5" width="923.0" height="505.0" fill="none" stroke="#000" stroke-width="1.11" stroke-linejoin="miter"/>
<path d="M168.5 537.5v5.3M336.5 537.5v5.3M504.5 537.5v5.3M671.5 537.5v5.3M839.5 537.5v5.3M57.5 520.5h-5.2M57.5 442.5h-5.2M57.5 364.5h-5.2M57.5 286.5h-5.2M57.5 209.5h-5.2M57.5 131.5h-5.2M57.5 53.5h-5.2" stroke="#000" stroke-width="1.11" fill="none"/>
<g font-family="'DejaVu Sans', 'Liberation Sans', sans-serif" fill="#000">
<text x="168.2" y="557.2" font-size="13.89" text-anchor="middle" textLength="146">2025-02-01 04:20:00</text>
<text x="336.0" y="557.2" font-size="13.89" text-anchor="middle" textLength="146">2025-02-01 04:21:00</text>
<text x="503.8" y="557.2" font-size="13.89" text-anchor="middle" textLength="146">2025-02-01 04:22:00</text>
<text x="671.4" y="557.2" font-size="13.89" text-anchor="middle" textLength="146">2025-02-01 04:23:00</text>
<text x="839.1" y="557.2" font-size="13.89" text-anchor="middle" textLength="146">2025-02-01 04:24:00</text>
<text x="47.8" y="524.8" font-size="13.89" text-anchor="end">0</text>
<text x="46.6" y="446.8" font-size="13.89" text-anchor="end" textLength="17">10</text>
<text x="47.8" y="369.8" font-size="13.89" text-anchor="end">20</text>
<text x="46.6" y="291.8" font-size="13.89" text-anchor="end">30</text>
<text x="46.6" y="213.8" font-size="13.89" text-anchor="end">40</text>
<text x="46.6" y="135.8" font-size="13.89" text-anchor="end">50</text>
<text x="47.8" y="58.8" font-size="13.89" text-anchor="end">60</text>
<text x="519" y="576.6" font-size="13.89" text-anchor="middle">Time (UTC)</text>
<text transform="translate(20.3 285) rotate(-90)" font-size="13.89" text-anchor="middle" textLength="133.4">Bistatic Delay (km)</text>
<text x="518.5" y="23.3" font-size="16.67" text-anchor="middle">Detections in Delay</text>
</g></svg>
</body></html>
